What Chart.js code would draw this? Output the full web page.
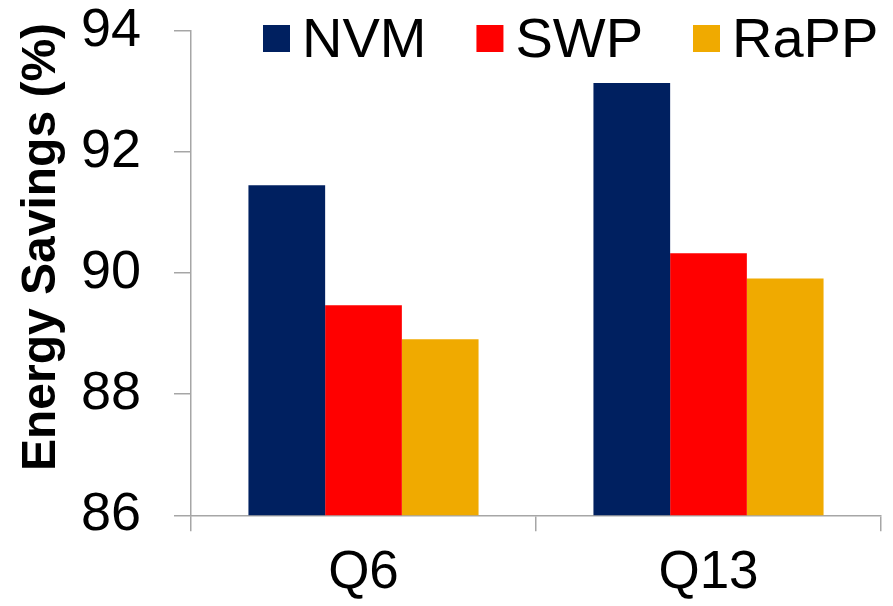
<!DOCTYPE html>
<html>
<head>
<meta charset="utf-8">
<script src="https://cdn.jsdelivr.net/npm/chart.js@4.4.1/dist/chart.umd.min.js"></script>
<style>
  html, body { margin: 0; padding: 0; background: #ffffff; }
  #wrap { width: 893px; height: 606px; position: relative; }
</style>
</head>
<body>
<div id="wrap"><canvas id="chart" width="893" height="606"></canvas></div>
<script>
// Energy savings per query, by scheme
const categories = ['Q6', 'Q13'];
const nvmValues  = [91.45, 93.14];
const swpValues  = [89.47, 90.33];
const rappValues = [88.91, 89.91];
const seriesNames = ['NVM', 'SWP', 'RaPP'];
const yTickValues = [86, 88, 90, 92, 94];
const yAxisTitle = 'Energy Savings (%)';

const FONT = '"Liberation Sans", Arial, Helvetica, sans-serif';
const AXIS_GREY = '#a6a6a6';
const colours = ['#002060', '#ff0000', '#f0aa00'];

// Legend drawn across the top: square swatch followed by the series name
const topLegend = {
  id: 'topLegend',
  afterDraw(chart) {
    const ctx = chart.ctx;
    ctx.save();
    ctx.font = '56px ' + FONT;
    ctx.textBaseline = 'alphabetic';
    ctx.textAlign = 'left';
    let x = 263;
    const box = 27, boxTop = 25, baseline = 57;
    chart.data.datasets.forEach((ds) => {
      ctx.fillStyle = ds.backgroundColor;
      ctx.fillRect(x, boxTop, box, box);
      x += box + 12;
      ctx.fillStyle = '#000000';
      ctx.fillText(ds.label, x, baseline);
      x += ctx.measureText(ds.label).width + 50;
    });
    ctx.restore();
  }
};

// Vertical axis title, set a little above the axis midpoint
const sideTitle = {
  id: 'sideTitle',
  afterDraw(chart) {
    const ctx = chart.ctx;
    ctx.save();
    ctx.font = 'bold 48px ' + FONT;
    ctx.fillStyle = '#000000';
    ctx.textAlign = 'center';
    ctx.textBaseline = 'alphabetic';
    ctx.translate(55, 247);
    ctx.rotate(-Math.PI / 2);
    ctx.fillText(yAxisTitle, 0, 0);
    ctx.restore();
  }
};

new Chart(document.getElementById('chart'), {
  type: 'bar',
  data: {
    labels: categories,
    datasets: [
      { label: seriesNames[0], data: nvmValues,  backgroundColor: colours[0] },
      { label: seriesNames[1], data: swpValues,  backgroundColor: colours[1] },
      { label: seriesNames[2], data: rappValues, backgroundColor: colours[2] }
    ]
  },
  options: {
    responsive: false,
    animation: false,
    devicePixelRatio: 1,
    layout: { padding: { top: 31, right: 12, left: 0, bottom: 0 } },
    datasets: { bar: { barPercentage: 1.0, categoryPercentage: 0.667, borderWidth: 0 } },
    plugins: {
      legend: { display: false },
      tooltip: { enabled: false },
      title: { display: false }
    },
    scales: {
      x: {
        offset: true,
        grid: {
          offset: true,
          drawOnChartArea: false,
          drawTicks: true,
          tickLength: 16,
          color: AXIS_GREY,
          lineWidth: 1.5
        },
        border: { display: true, color: AXIS_GREY, width: 1.5 },
        ticks: { color: '#000000', font: { family: FONT, size: 53 }, padding: 10 },
        afterFit(scale) {
          scale.height = 90.7;
          scale.paddingLeft = 0;
          scale.paddingRight = 0;
        }
      },
      y: {
        min: 86,
        max: 94,
        afterBuildTicks(scale) { scale.ticks = yTickValues.map(v => ({ value: v })); },
        grid: {
          drawOnChartArea: false,
          drawTicks: true,
          tickLength: 17,
          color: AXIS_GREY,
          lineWidth: 1.5
        },
        border: { display: true, color: AXIS_GREY, width: 1.5 },
        ticks: { color: '#000000', font: { family: FONT, size: 54 }, padding: 33 },
        afterFit(scale) {
          scale.width = 191;
          scale.paddingTop = 0;
          scale.paddingBottom = 0;
        }
      }
    }
  },
  plugins: [topLegend, sideTitle]
});
</script>
</body>
</html>
